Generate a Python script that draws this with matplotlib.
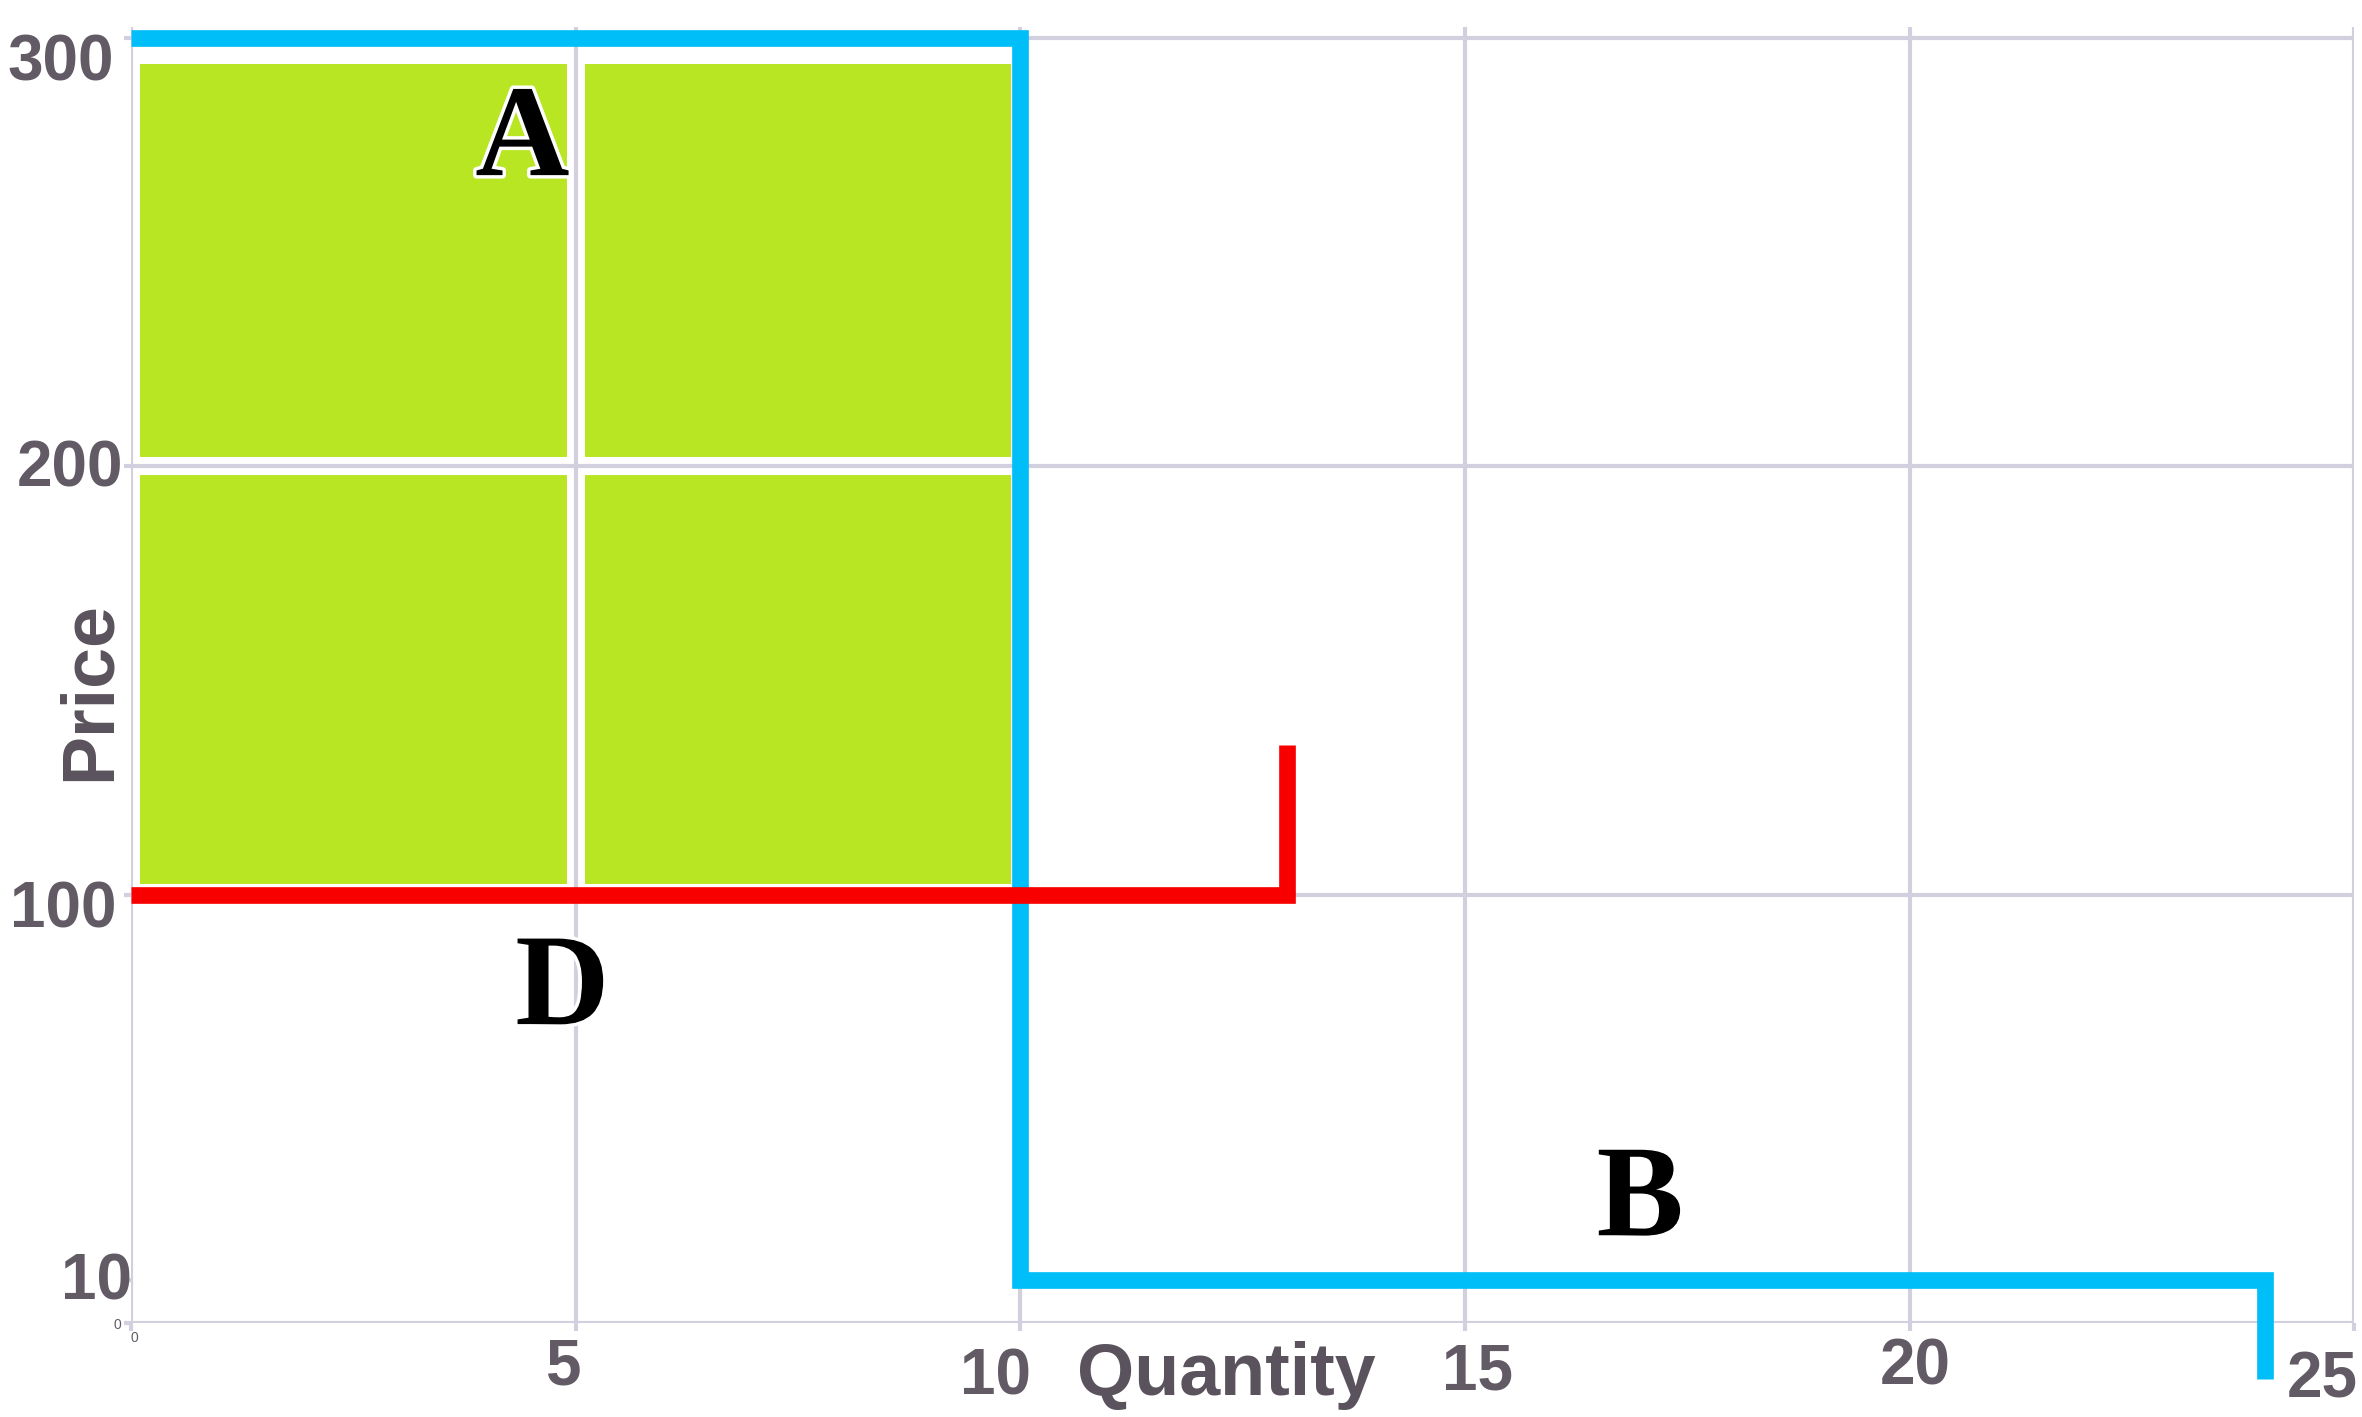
import matplotlib
matplotlib.use("Agg")
import matplotlib.pyplot as plt
import matplotlib.transforms as mtransforms
import matplotlib.patheffects as pe

# data
cell_left = [0, 5, 0, 5]
cell_bottom = [100.5, 100.5, 200, 200]
cell_height = [99.5, 99.5, 96, 96]
cell_width = 5

supply_q = [0, 10, 10, 24, 24]
supply_p = [300, 300, 10, 10, -13]

demand_q = [0, 13, 13]
demand_p = [100, 100, 135]

area_text = ["A", "D", "B"]
area_x = [4.4, 4.85, 16.97]
area_y = [268, 69.8, 20.5]

x_ticks = [0, 5, 10, 15, 20, 25]
x_tick_labels = ["0", "5", "10", "15", "20", "25"]
y_ticks = [0, 10, 100, 200, 300]
y_tick_labels = ["0", "10", "100", "200", "300"]
grid_y = [0, 100, 200, 300]

# style
grey_txt = "#625A64"
grid_col = "#D2D0DE"
green = "#B8E622"
blue = "#00BEF8"
red = "#F80000"
sans = ["Liberation Sans", "DejaVu Sans"]
serif = ["Liberation Serif", "DejaVu Serif"]

fig = plt.figure(figsize=(23.62, 14.17), dpi=100)
ax = fig.add_axes([0.0555, 0.0663, 0.9412, 0.9144])
ax.set_xlim(0, 25)
ax.set_ylim(0, 302.5)
for s in ax.spines.values():
    s.set_visible(False)

# green cells
ax.bar(cell_left, cell_height, width=cell_width, bottom=cell_bottom, align="edge",
       color=green, edgecolor="white", linewidth=13, zorder=1)

# grid
ax.vlines(x_ticks, 0, 302.5, colors=grid_col, linewidth=3, zorder=2)
ax.hlines(grid_y, 0, 25, colors=grid_col, linewidth=3, zorder=2)

# lines
ax.plot(supply_q, supply_p, color=blue, linewidth=12, solid_joinstyle="miter",
        solid_capstyle="butt", clip_on=False, zorder=3)
ax.plot(demand_q, demand_p, color=red, linewidth=12, solid_joinstyle="miter",
        solid_capstyle="butt", clip_on=False, zorder=4)

for t, x, y in zip(area_text, area_x, area_y):
    ax.text(x, y, t, ha="center", va="baseline", family=serif, fontweight="bold",
            fontsize=94, color="black", zorder=5,
            path_effects=[pe.withStroke(linewidth=5, foreground="white")])

# ticks
ax.set_xticks(x_ticks, x_tick_labels)
ax.set_yticks(y_ticks, y_tick_labels)
ax.tick_params(axis="x", length=5.8, width=3, color=grid_col, pad=4.3)
ax.tick_params(axis="y", length=5, width=3, color=grid_col, pad=1)


def shift(lbl, dx, dy):
    lbl.set_transform(lbl.get_transform() +
                      mtransforms.ScaledTranslation(dx / 100, -dy / 100, fig.dpi_scale_trans))


x_off = {"0": (3, -6), "5": (-13, 0), "10": (-25, 10), "15": (13, 5), "20": (6, 0), "25": (-32, 13)}
y_off = {"0": (-2, 0), "10": (9, -4), "100": (-6, 9), "200": (0, -3), "300": (-9, 19)}
for lbl in ax.get_xticklabels():
    lbl.set_family(sans)
    lbl.set_color(grey_txt)
    if lbl.get_text() == "0":
        lbl.set_fontsize(10)
    else:
        lbl.set_fontsize(46)
        lbl.set_fontweight("bold")
    shift(lbl, *x_off[lbl.get_text()])
for lbl in ax.get_yticklabels():
    lbl.set_family(sans)
    lbl.set_color(grey_txt)
    if lbl.get_text() == "0":
        lbl.set_fontsize(10)
    else:
        lbl.set_fontsize(46)
        lbl.set_fontweight("bold")
    shift(lbl, *y_off[lbl.get_text()])

# axis titles
fig.text(1226 / 2362, 1 - 1395 / 1417, "Quantity", ha="center", va="baseline",
         family=sans, fontweight="bold", fontsize=53, color="#5A525C")
fig.text(110 / 2362, 1 - 691 / 1417, "Price", ha="center", va="baseline",
         rotation=90, rotation_mode="anchor",
         family=sans, fontweight="bold", fontsize=53, color="#5A525C")

fig.savefig("out.png", dpi=100)
